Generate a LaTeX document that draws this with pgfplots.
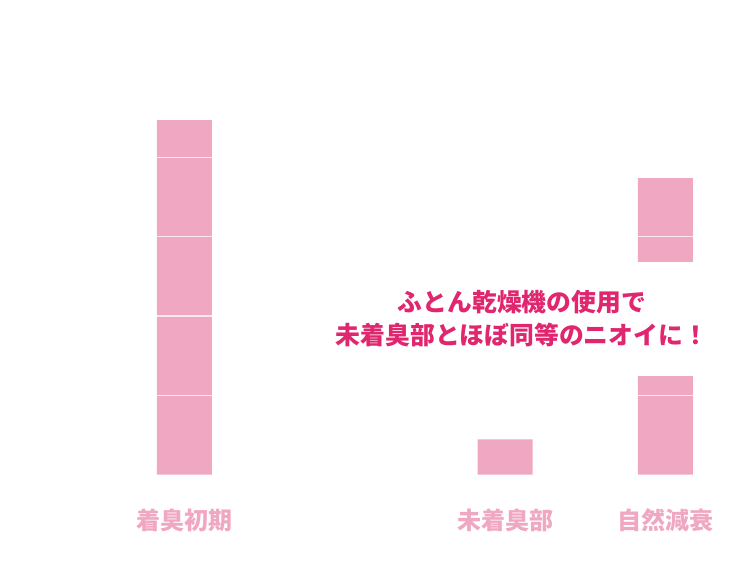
\documentclass[border=0pt]{standalone}
\usepackage{fontspec}
\usepackage{pgfplots}
\pgfplotsset{compat=1.18}
\newfontfamily\cjk{Noto Sans CJK JP}
\definecolor{barpink}{HTML}{F0A7C2}
\definecolor{notepink}{HTML}{E0266E}
\begin{document}
\begin{tikzpicture}
\path[use as bounding box] (0,0) rectangle (746pt,587pt);
\begin{axis}[
  at={(0pt,112.3pt)}, anchor=south west,
  scale only axis, width=746pt, height=474.7pt,
  xmin=-1.151, xmax=3.503, ymin=0, ymax=5.986,
  axis line style={draw=none}, major tick length=0pt,
  axis on top,
  ybar, bar width=55pt, bar shift=0pt,
  xtick={0,2,3}, xticklabels={着臭初期,未着臭部,自然減衰},
  xticklabel style={anchor=center, yshift=-46pt,
    font=\cjk\bfseries\fontsize{24}{28}\selectfont, text=barpink},
  ytick={1,2,3,4}, yticklabels={},
  ymajorgrids, grid style={draw=white, opacity=0.75, line width=1.4pt},
  clip=false,
]
\addplot[fill=barpink, draw=none] coordinates {(0,4.47) (2,0.446) (3,3.74)};
\node[fill=white, align=center, inner xsep=2pt, minimum height=114pt,
  text=notepink, font=\cjk\bfseries\fontsize{24.8}{33}\selectfont]
  at (axis cs:2.105,1.963) {ふとん乾燥機の使用で\\未着臭部とほぼ同等のニオイに！};
\end{axis}
\end{tikzpicture}
\end{document}
